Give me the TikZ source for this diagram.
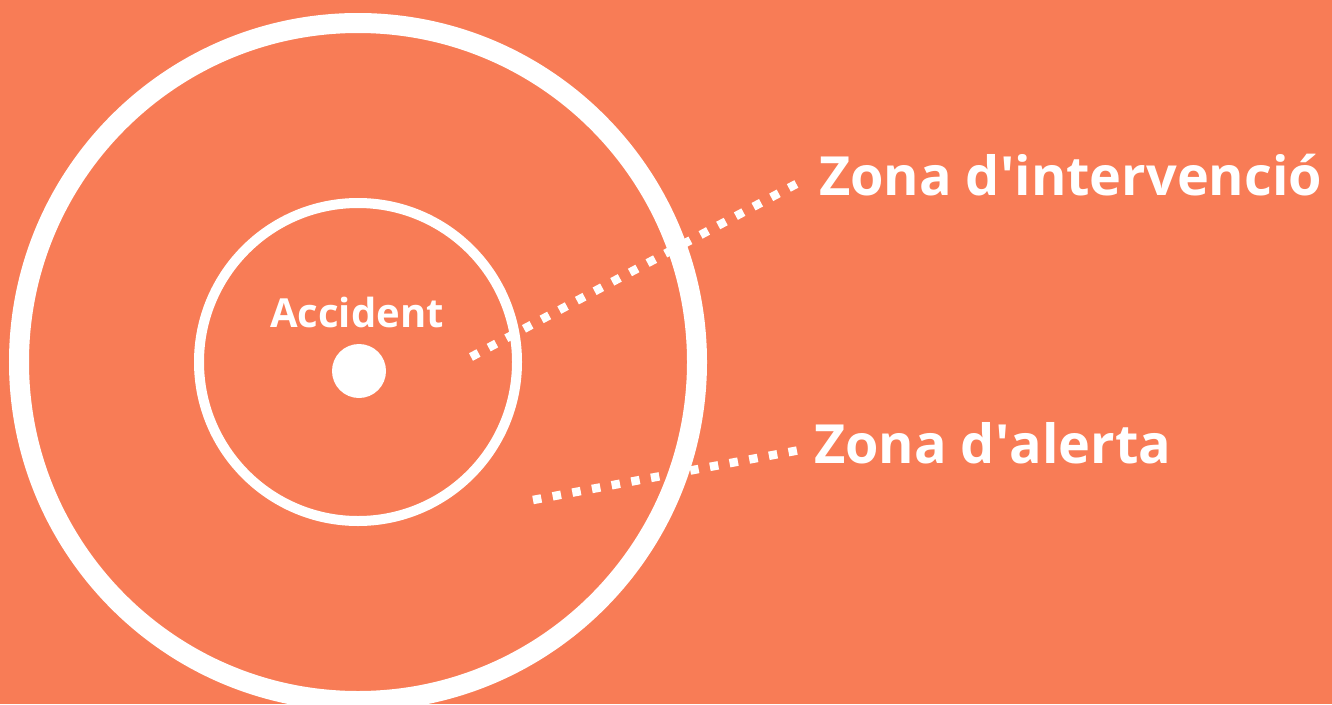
\documentclass[tikz,border=0pt]{standalone}
\usepackage{fontspec}
\setmainfont{Open Sans}
\definecolor{bg}{HTML}{F87C56}
\begin{document}
\begin{tikzpicture}[x=1pt,y=-1pt,
  ring/.style={circle,draw=white,inner sep=0pt,minimum size=#1},
  lbl/.style={text=white,font=\bfseries,inner sep=0pt,anchor=base west},
  dots/.style={draw=white,line width=8.5pt,dash pattern=on 8.5pt off 11.5pt}]
\fill[bg] (0,0) rectangle (1332,704);
\useasboundingbox (0,0) rectangle (1332,704);
\node[ring=678pt,line width=20pt] (outer) at (358,362) {};
\node[ring=318pt,line width=10pt] (inner) at (358,362) {};
\node[circle,fill=white,inner sep=0pt,minimum size=54pt] (dot) at (359,371) {};
\node[text=white,font=\bfseries\fontsize{40}{42}\selectfont,inner sep=0pt,anchor=base] (acc) at (357,327) {Accident};
\node[lbl,font=\bfseries\fontsize{54}{58}\selectfont] (zi) at (819,195) {Zona d\textquotesingle intervenció};
\node[lbl,font=\bfseries\fontsize{54}{58}\selectfont] (za) at (814,463) {Zona d\textquotesingle alerta};
\coordinate (a1) at (471,357);
\coordinate (b1) at (800,182);
\coordinate (a2) at (533,500);
\coordinate (b2) at (800,450);
\draw[dots] (a1) -- (b1);
\draw[dots] (a2) -- (b2);
\end{tikzpicture}
\end{document}
